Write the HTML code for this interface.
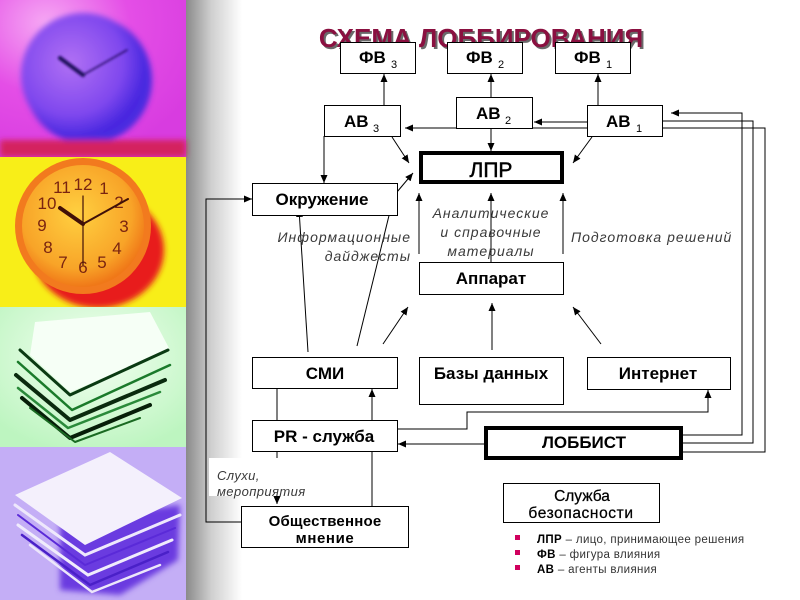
<!DOCTYPE html>
<html>
<head>
<meta charset="utf-8">
<style>
html,body{margin:0;padding:0;background:#fff;}
svg{display:block;}
.b{font-family:"Liberation Sans","DejaVu Sans",sans-serif;font-weight:bold;font-size:17px;fill:#000;}
.s{font-family:"Liberation Sans","DejaVu Sans",sans-serif;font-size:11px;fill:#000;}
.i{font-family:"Liberation Sans","DejaVu Sans",sans-serif;font-style:italic;font-size:14px;fill:#3a3a3a;letter-spacing:1px;}
.l{font-family:"Liberation Sans","DejaVu Sans",sans-serif;font-size:11.5px;fill:#333;letter-spacing:0.35px;}
</style>
</head>
<body>
<svg width="800" height="600" viewBox="0 0 800 600" xmlns="http://www.w3.org/2000/svg">
<defs>
<linearGradient id="gr" x1="0" y1="0" x2="1" y2="0">
<stop offset="0" stop-color="#8a8a8a"/>
<stop offset="0.45" stop-color="#cfcfcf"/>
<stop offset="1" stop-color="#ffffff"/>
</linearGradient>
<radialGradient id="p1" cx="0.25" cy="0.15" r="0.9">
<stop offset="0" stop-color="#f6a8f4"/>
<stop offset="0.5" stop-color="#e44ee6"/>
<stop offset="1" stop-color="#d83ce0"/>
</radialGradient>
<radialGradient id="cl1" cx="0.4" cy="0.4" r="0.6">
<stop offset="0" stop-color="#b070f4"/>
<stop offset="0.7" stop-color="#8048ee"/>
<stop offset="1" stop-color="#4a28e0"/>
</radialGradient>
<radialGradient id="cl2" cx="0.45" cy="0.4" r="0.6">
<stop offset="0" stop-color="#ffd040"/>
<stop offset="0.75" stop-color="#f8a428"/>
<stop offset="1" stop-color="#f07818"/>
</radialGradient>
<radialGradient id="p3" cx="0.5" cy="0.35" r="0.7">
<stop offset="0" stop-color="#f4fff2"/>
<stop offset="1" stop-color="#bdf5c0"/>
</radialGradient>
<filter id="bl" x="-20%" y="-20%" width="140%" height="140%"><feGaussianBlur stdDeviation="3"/></filter>
<filter id="bl2" x="-20%" y="-20%" width="140%" height="140%"><feGaussianBlur stdDeviation="1.2"/></filter>
<marker id="a" markerUnits="userSpaceOnUse" markerWidth="8" markerHeight="7" refX="8" refY="3.5" orient="auto">
<path d="M0,0 L8,3.5 L0,7 z" fill="#000"/>
</marker>
</defs>

<!-- gradient strip -->
<rect x="186" y="0" width="56" height="600" fill="url(#gr)"/>

<!-- photo panel 1: magenta clock -->
<rect x="0" y="0" width="186" height="157" fill="url(#p1)"/>
<g filter="url(#bl)">
<circle cx="88" cy="80" r="64" fill="#4a2ae0"/>
<circle cx="83" cy="75" r="62" fill="url(#cl1)"/>
<rect x="0" y="140" width="186" height="17" fill="#d4205e"/>
</g>
<g filter="url(#bl2)" stroke="#1c0c5a" stroke-linecap="round">
<line x1="83" y1="75" x2="60" y2="58" stroke-width="4"/>
<line x1="83" y1="75" x2="127" y2="50" stroke-width="1.5"/>
</g>

<!-- photo panel 2: yellow/orange clock -->
<rect x="0" y="157" width="186" height="150" fill="#f8ee18"/>
<g filter="url(#bl)">
<ellipse cx="98" cy="250" rx="66" ry="58" fill="#e81c1c"/>
</g>
<circle cx="83" cy="226" r="68" fill="#f27a1e"/>
<circle cx="83" cy="226" r="61" fill="url(#cl2)"/>
<g font-family="Liberation Sans,sans-serif" font-size="17" fill="#7a2410" text-anchor="middle">
<text x="83" y="190">12</text><text x="104" y="194">1</text><text x="119" y="208">2</text>
<text x="124" y="232">3</text><text x="117" y="254">4</text><text x="102" y="268">5</text>
<text x="83" y="273">6</text><text x="63" y="268">7</text><text x="48" y="253">8</text>
<text x="42" y="231">9</text><text x="47" y="209">10</text><text x="62" y="193">11</text>
</g>
<g stroke="#401008" stroke-linecap="round">
<line x1="83" y1="196" x2="83" y2="265" stroke-width="1.2"/>
<line x1="83" y1="224" x2="60" y2="208" stroke-width="4"/>
<line x1="83" y1="224" x2="128" y2="199" stroke-width="2"/>
</g>

<!-- photo panel 3: green papers -->
<rect x="0" y="307" width="186" height="140" fill="url(#p3)"/>
<polygon points="35,322 150,312 170,350 70,392 30,355" fill="#f6fff6"/>
<g fill="none" stroke-linecap="round" stroke-linejoin="round">
<polyline points="20,350 70,395 168,350" stroke="#0a3a12" stroke-width="3"/>
<polyline points="18,362 72,410 170,365" stroke="#1a7a2a" stroke-width="2.5"/>
<polyline points="16,375 70,420 165,380" stroke="#0a2a0e" stroke-width="4"/>
<polyline points="18,388 68,428 160,392" stroke="#2a8a3a" stroke-width="2.5"/>
<polyline points="22,398 70,438 150,405" stroke="#061e08" stroke-width="4"/>
<polyline points="30,408 75,442 140,418" stroke="#1a6a22" stroke-width="2"/>
</g>

<!-- photo panel 4: lavender papers -->
<rect x="0" y="447" width="186" height="153" fill="#c4aef6"/>
<g filter="url(#bl)">
<polygon points="60,520 180,505 178,560 120,595 60,590" fill="#6a3ae0"/>
</g>
<polygon points="15,495 110,452 182,498 85,545" fill="#f4f0fc"/>
<g fill="none" stroke-linecap="round">
<polyline points="15,505 85,555 180,515" stroke="#eee8fc" stroke-width="3"/>
<polyline points="18,515 85,565 175,528" stroke="#5a2ad8" stroke-width="2"/>
<polyline points="18,525 88,575 172,540" stroke="#f0ecfc" stroke-width="3"/>
<polyline points="22,535 90,585 168,552" stroke="#4a20c8" stroke-width="2.5"/>
<polyline points="30,545 92,592 160,565" stroke="#ece6fa" stroke-width="2.5"/>
</g>

<!-- title -->
<text x="483" y="49" text-anchor="middle" font-family="Liberation Sans,sans-serif" font-weight="bold" font-size="26" fill="#6a6a6a">СХЕМА ЛОББИРОВАНИЯ</text>
<text x="481" y="47" text-anchor="middle" font-family="Liberation Sans,sans-serif" font-weight="bold" font-size="26" fill="#8a1040">СХЕМА ЛОББИРОВАНИЯ</text>

<!-- connectors -->
<g stroke="#000" stroke-width="1" fill="none">
<line x1="384" y1="105" x2="384" y2="74" marker-end="url(#a)"/>
<line x1="491" y1="97" x2="491" y2="74" marker-end="url(#a)"/>
<line x1="598" y1="105" x2="598" y2="74" marker-end="url(#a)"/>
<line x1="587" y1="122" x2="534" y2="122" marker-end="url(#a)"/>
<line x1="587" y1="128" x2="405" y2="128" marker-end="url(#a)"/>
<line x1="491" y1="128" x2="491" y2="151" marker-end="url(#a)"/>
<line x1="392" y1="137" x2="409" y2="163" marker-end="url(#a)"/>
<line x1="592" y1="137" x2="573" y2="163" marker-end="url(#a)"/>
<line x1="397" y1="192" x2="413" y2="173" marker-end="url(#a)"/>
<line x1="324" y1="136" x2="324" y2="183" marker-end="url(#a)"/>
<polyline points="241,522 206,522 206,199 252,199" marker-end="url(#a)"/>
<line x1="308" y1="352" x2="299" y2="209" marker-end="url(#a)"/>
<line x1="357" y1="346" x2="396" y2="187" marker-end="url(#a)"/>
<line x1="383" y1="344" x2="408" y2="307" marker-end="url(#a)"/>
<line x1="492" y1="350" x2="492" y2="303" marker-end="url(#a)"/>
<line x1="601" y1="344" x2="573" y2="307" marker-end="url(#a)"/>
<line x1="419" y1="254" x2="419" y2="193" marker-end="url(#a)"/>
<line x1="491" y1="262" x2="491" y2="193" marker-end="url(#a)"/>
<line x1="563" y1="254" x2="563" y2="193" marker-end="url(#a)"/>
<line x1="277" y1="388" x2="277" y2="420"/>
<line x1="372" y1="420" x2="372" y2="389" marker-end="url(#a)"/>
<line x1="277" y1="451" x2="277" y2="504" marker-end="url(#a)"/>
<line x1="372" y1="506" x2="372" y2="451"/>
<line x1="484" y1="444" x2="398" y2="444" marker-end="url(#a)"/>
<polyline points="397,429 467,429 467,412 708,412 708,390" marker-end="url(#a)"/>
<polyline points="683,435 742,435 742,113 671,113" marker-end="url(#a)"/>
<polyline points="683,443 753,443 753,121 662,121"/>
<polyline points="683,452 765,452 765,128 662,128"/>
</g>

<!-- white label background -->
<rect x="209" y="458" width="112" height="38" fill="#fff"/>
<line x1="277" y1="496" x2="277" y2="504" stroke="#000" stroke-width="1" marker-end="url(#a)"/>

<!-- boxes -->
<g fill="#fff" stroke="#000" stroke-width="1">
<rect x="340.5" y="42.5" width="75" height="31"/>
<rect x="447.5" y="42.5" width="75" height="31"/>
<rect x="555.5" y="42.5" width="75" height="31"/>
<rect x="324.5" y="105.5" width="76" height="31"/>
<rect x="456.5" y="97.5" width="76" height="31"/>
<rect x="587.5" y="105.5" width="75" height="31"/>
<rect x="252.5" y="183.5" width="145" height="32"/>
<rect x="419.5" y="262.5" width="144" height="32"/>
<rect x="252.5" y="357.5" width="145" height="31"/>
<rect x="419.5" y="357.5" width="144" height="47"/>
<rect x="587.5" y="357.5" width="143" height="32"/>
<rect x="252.5" y="420.5" width="145" height="31"/>
<rect x="241.5" y="506.5" width="167" height="41"/>
<rect x="503.5" y="483.5" width="156" height="39"/>
</g>
<rect x="421" y="153" width="141" height="29" fill="#fff" stroke="#000" stroke-width="4"/>
<rect x="486" y="428" width="195" height="30" fill="#fff" stroke="#000" stroke-width="4"/>

<!-- box labels -->
<text class="b" x="359" y="63">ФВ</text><text class="s" x="391" y="68">3</text>
<text class="b" x="466" y="63">ФВ</text><text class="s" x="498" y="68">2</text>
<text class="b" x="574" y="63">ФВ</text><text class="s" x="606" y="68">1</text>
<text class="b" x="344" y="127">АВ</text><text class="s" x="373" y="132">3</text>
<text class="b" x="476" y="119">АВ</text><text class="s" x="505" y="124">2</text>
<text class="b" x="606" y="127">АВ</text><text class="s" x="636" y="132">1</text>
<text x="491" y="177" text-anchor="middle" font-family="Liberation Sans,sans-serif" font-size="21" fill="#000" stroke="#000" stroke-width="0.5">ЛПР</text>
<text class="b" x="322" y="205" text-anchor="middle">Окружение</text>
<text class="b" x="491" y="284" text-anchor="middle">Аппарат</text>
<text class="b" x="325" y="379" text-anchor="middle">СМИ</text>
<text class="b" x="491" y="379" text-anchor="middle">Базы данных</text>
<text class="b" x="658" y="379" text-anchor="middle">Интернет</text>
<text class="b" x="324" y="442" text-anchor="middle">PR - служба</text>
<text class="b" x="584" y="448" text-anchor="middle">ЛОББИСТ</text>
<text class="b" x="325" y="526" text-anchor="middle" style="font-size:15px;letter-spacing:0.2px">Общественное</text>
<text class="b" x="325" y="543" text-anchor="middle" style="font-size:15px;letter-spacing:0.6px">мнение</text>
<text x="582" y="501" text-anchor="middle" font-family="Liberation Sans,sans-serif" font-size="15.5" fill="#000" stroke="#000" stroke-width="0.25">Служба</text>
<text x="581" y="518" text-anchor="middle" font-family="Liberation Sans,sans-serif" font-size="15.5" fill="#000" stroke="#000" stroke-width="0.25" letter-spacing="0.6">безопасности</text>

<!-- italic labels -->
<text class="i" x="411" y="242" text-anchor="end">Информационные</text>
<text class="i" x="411" y="261" text-anchor="end">дайджесты</text>
<text class="i" x="491" y="218" text-anchor="middle">Аналитические</text>
<text class="i" x="491" y="237" text-anchor="middle">и справочные</text>
<text class="i" x="491" y="256" text-anchor="middle">материалы</text>
<text class="i" x="571" y="242">Подготовка решений</text>
<text class="i" x="217" y="480" style="font-size:13px;letter-spacing:0.4px">Слухи,</text>
<text class="i" x="217" y="496" style="font-size:13px;letter-spacing:0.4px">мероприятия</text>

<!-- legend -->
<rect x="515" y="535" width="5" height="5" fill="#d0005e"/>
<rect x="515" y="550" width="5" height="5" fill="#d0005e"/>
<rect x="515" y="565" width="5" height="5" fill="#d0005e"/>
<text class="l" x="537" y="543"><tspan font-weight="bold" fill="#000">ЛПР</tspan> – лицо, принимающее решения</text>
<text class="l" x="537" y="558"><tspan font-weight="bold" fill="#000">ФВ</tspan> – фигура влияния</text>
<text class="l" x="537" y="573"><tspan font-weight="bold" fill="#000">АВ</tspan> – агенты влияния</text>
</svg>
</body>
</html>
